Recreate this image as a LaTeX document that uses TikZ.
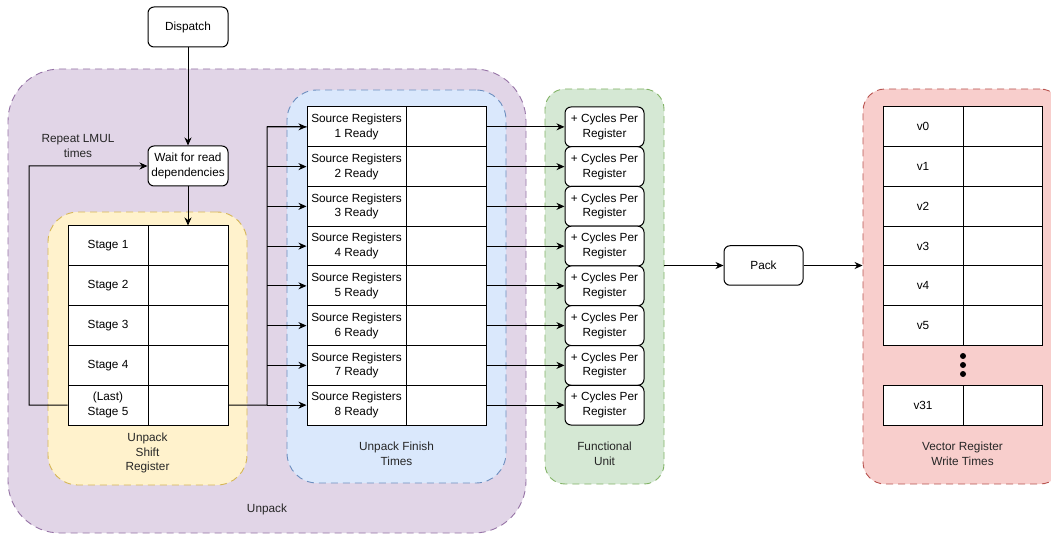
\documentclass[tikz,border=0pt]{standalone}
\usepackage{fontspec}
\setmainfont{Liberation Sans}
\usetikzlibrary{arrows.meta}

\definecolor{unpackfill}{HTML}{E1D5E7}\definecolor{unpackline}{HTML}{9673A6}
\definecolor{shiftfill}{HTML}{FFF2CC}\definecolor{shiftline}{HTML}{D6B656}
\definecolor{finishfill}{HTML}{DAE8FC}\definecolor{finishline}{HTML}{6C8EBF}
\definecolor{fufill}{HTML}{D5E8D4}\definecolor{fuline}{HTML}{82B366}
\definecolor{vrfill}{HTML}{F8CECC}\definecolor{vrline}{HTML}{B85450}

\begin{document}
\begin{tikzpicture}[x=1pt,y=-1pt,
  font=\fontsize{11.8}{14.8}\selectfont,
  every node/.style={inner sep=0pt, align=center},
  cont/.style={draw, rectangle, line width=0.9pt, dash pattern=on 7pt off 5pt},
  cell/.style={draw, fill=white, line width=1pt, minimum height=39.8pt},
  roundbox/.style={draw, fill=white, line width=1pt, rounded corners=6pt},
  wire/.style={line width=1pt},
  arr/.style={wire, -{Stealth[length=8pt,width=7pt,inset=2.5pt]}},
  lbl/.style={text=black!85}
]
\useasboundingbox (0,0) rectangle (1051,534);
\begin{scope}
\clip (0,0) rectangle (1051,534);

% group backgrounds
\node[cont, draw=unpackline, fill=unpackfill, rounded corners=52pt,
      minimum width=518pt, minimum height=464pt] (unpack) at (267,301) {};
\node[cont, draw=shiftline, fill=shiftfill, rounded corners=30pt,
      minimum width=199pt, minimum height=273pt] (shift) at (147.5,348.5) {};
\node[cont, draw=finishline, fill=finishfill, rounded corners=30pt,
      minimum width=219pt, minimum height=393pt] (finish) at (396.5,286.5) {};
\node[cont, draw=fuline, fill=fufill, rounded corners=20pt,
      minimum width=119pt, minimum height=395pt] (fu) at (604.5,286.5) {};
\node[cont, draw=vrline, fill=vrfill, rounded corners=22pt,
      minimum width=199pt, minimum height=395pt] (vr) at (962.5,286.5) {};

% group captions
\node[lbl] (unpacklbl) at (267,509) {Unpack};
\node[lbl] (shiftlbl) at (147.5,453) {Unpack\\Shift\\Register};
\node[lbl] (finishlbl) at (396.5,453.5) {Unpack Finish\\Times};
\node[lbl] (fulbl) at (604.5,453.5) {Functional\\Unit};
\node[lbl] (vrlbl) at (962.5,453.5) {Vector Register\\Write Times};
\node[lbl] (repeat) at (78,146) {Repeat LMUL\\times};

% control boxes
\node[roundbox, minimum width=80pt, minimum height=40pt] (dispatch) at (188,27) {Dispatch};
\node[roundbox, minimum width=80pt, minimum height=40pt] (wait) at (188,166) {Wait for read\\dependencies};
\node[roundbox, minimum width=79pt, minimum height=39.5pt] (pack) at (763.5,265.5) {Pack};

% unpack shift register
\foreach \i/\t in {1/Stage 1,2/Stage 2,3/Stage 3,4/Stage 4,5/{(Last)\\Stage 5}} {
  \node[cell, minimum width=80pt] (st\i l) at (108,{226+39.8*(\i-0.5)}) {\t};
  \node[cell, minimum width=80pt] (st\i r) at (188,{226+39.8*(\i-0.5)}) {};
}

% unpack finish times and functional unit
\foreach \i in {1,...,8} {
  \node[cell, minimum width=99pt, minimum height=39.75pt] (src\i l) at (356.5,{107+39.75*(\i-0.5)}) {Source Registers\\\i{} Ready};
  \node[cell, minimum width=80pt, minimum height=39.75pt] (src\i r) at (446,{107+39.75*(\i-0.5)}) {};
  \node[roundbox, minimum width=79pt, minimum height=39.75pt] (cyc\i) at (604.5,{107+39.75*(\i-0.5)}) {+ Cycles Per\\Register};
}

% vector register write times
\foreach \i in {0,...,5} {
  \node[cell, minimum width=80pt, minimum height=39.7pt] (v\i l) at (923,{107+39.7*(\i+0.5)}) {v\i};
  \node[cell, minimum width=79pt, minimum height=39.7pt] (v\i r) at (1002.5,{107+39.7*(\i+0.5)}) {};
}
\node[cell, minimum width=80pt, minimum height=40pt] (v31l) at (923,405) {v31};
\node[cell, minimum width=79pt, minimum height=40pt] (v31r) at (1002.5,405) {};
\foreach \y/\n in {356/a,365/b,374/c}
  \fill (963,\y) circle (3pt) coordinate (dot\n);

% connectors
\draw[arr] (dispatch) -- (wait);
\draw[arr] (wait.south) -- (st1r.north);
\coordinate (loop) at (29,405);
\draw[arr] (st5l.west) -- (loop) |- (wait.west);
\coordinate (bus) at (267,405);
\draw[wire] (st5r.east) -- (bus) |- (src1l.west);
\foreach \i in {1,...,8}
  \draw[arr] (bus |- src\i l.west) -- (src\i l.west);
\foreach \i in {1,...,8}
  \draw[arr] (src\i r.east) -- (cyc\i.west);
\draw[arr] (fu.east |- pack.west) -- (pack.west);
\draw[arr] (pack.east) -- (vr.west |- pack.east);
\end{scope}
\end{tikzpicture}
\end{document}
